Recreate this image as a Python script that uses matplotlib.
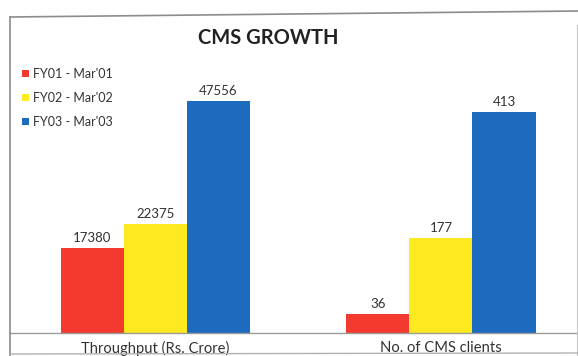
import matplotlib
matplotlib.use("Agg")
import matplotlib.pyplot as plt
from matplotlib.lines import Line2D

# Data
categories = ["Throughput (Rs. Crore)", "No. of CMS clients"]
series_labels = ["FY01 - Mar'01", "FY02 - Mar'02", "FY03 - Mar'03"]
throughput = [17380, 22375, 47556]
cms_clients = [36, 177, 413]
colors = ["#F23A2F", "#FFEA1F", "#1C6BBF"]

W, H = 578, 356
plt.rcParams["font.family"] = ["Lato", "DejaVu Sans"]

fig = plt.figure(figsize=(W / 100, H / 100), dpi=100)
fig.patch.set_facecolor("white")

def fx(px):
    return px / W

def fy(py):
    return 1 - py / H

base_px, top_px = 333, 30
ax = fig.add_axes([0, fy(base_px), 1, (base_px - top_px) / H])
ax2 = ax.twinx()

for a in (ax, ax2):
    a.set_xlim(-0.5447, 1.4799)
    a.axis("off")
ax.set_ylim(0, 62100)
ax2.set_ylim(0, 566)

width = 0.2207
offsets = [-width, 0, width]
bars = []
for i, lab in enumerate(series_labels):
    b = ax.bar(0 + offsets[i], throughput[i], width, color=colors[i], label=lab)
    ax.annotate(f"{throughput[i]}", (0 + offsets[i], throughput[i]),
                xytext=(0, 3), textcoords="offset points",
                ha="center", va="bottom", fontsize=9.5, color="#333333")
    ax2.bar(1 + offsets[i], cms_clients[i], width, color=colors[i])
    ax2.annotate(f"{cms_clients[i]}", (1 + offsets[i], cms_clients[i]),
                 xytext=(0, 3), textcoords="offset points",
                 ha="center", va="bottom", fontsize=9.5, color="#333333")
    bars.append(b)

# Category labels under each group
for i, cat in enumerate(categories):
    ax.annotate(cat, (i, 0), xytext=(0, -5.5), textcoords="offset points",
                ha="center", va="top", fontsize=10.6, color="#333333")

# Title
fig.text(fx(268), fy(38), "CMS GROWTH", ha="center", va="center",
         fontsize=14.5, fontweight="bold", color="#222222")

# Legend
leg = ax.legend(handles=bars, loc="upper left",
                bbox_to_anchor=(fx(22), fy(68)), bbox_transform=fig.transFigure,
                frameon=False, fontsize=9, handlelength=0.55, handleheight=0.55,
                handletextpad=0.3, labelspacing=0.95, borderpad=0, borderaxespad=0)
for t in leg.get_texts():
    t.set_color("#333333")

# Baseline and frame
fig.add_artist(Line2D([fx(10), fx(578)], [fy(base_px), fy(base_px)],
                      color="#9a9a9a", lw=1.0))
frame_kw = dict(color="#8c8c8c", lw=1.2)
fig.add_artist(Line2D([fx(10), fx(10)], [fy(17), fy(356)], **frame_kw))
fig.add_artist(Line2D([fx(10), fx(578)], [fy(17), fy(11)], **frame_kw))
fig.add_artist(Line2D([fx(577), fx(577)], [fy(25), fy(356)], color="#c8c8c8", lw=0.8))
fig.add_artist(Line2D([fx(10), fx(578)], [fy(354), fy(353)], color="#b0b0b0", lw=1.0))

fig.savefig("out.png", dpi=100, facecolor="white")
